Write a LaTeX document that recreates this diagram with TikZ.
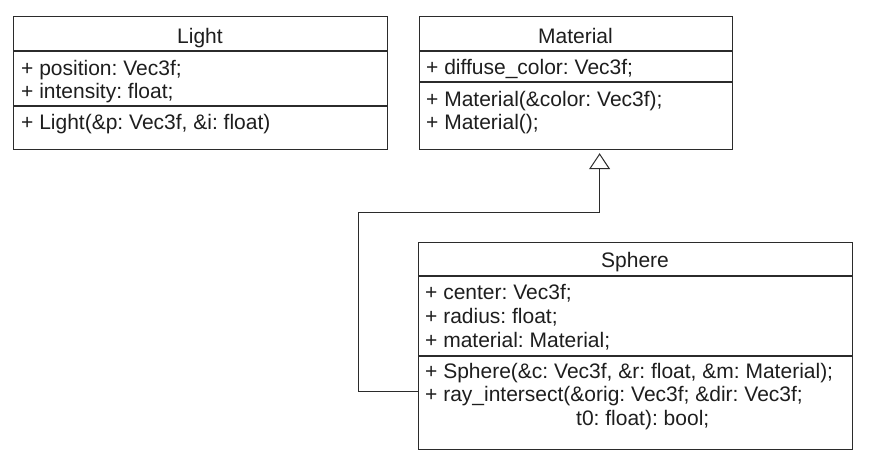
\documentclass[tikz,border=0pt]{standalone}
\usepackage{fontspec}
\setmainfont{Liberation Sans}
\usetikzlibrary{arrows.meta,calc}
\definecolor{umlline}{HTML}{2B2B2B}
\definecolor{umltext}{HTML}{1E1E1E}
\frenchspacing
\begin{document}
\begin{tikzpicture}[x=1pt,y=-1pt,
  umlbox/.style={draw=umlline, line width=1.2pt, fill=white, anchor=north west, inner sep=0pt},
  sepline/.style={draw=umlline, line width=1.1pt},
  txt/.style={anchor=base west, inner sep=0pt, text=umltext, font=\fontsize{21}{24}\selectfont},
  hdr/.style={anchor=base, inner sep=0pt, text=umltext, font=\fontsize{21}{24}\selectfont},
  inh/.style={draw=umlline, line width=1pt, shorten >=3pt,
    -{Triangle[open, length=16pt, width=21pt, fill=white]}}
]
\useasboundingbox[fill=white] (0,0) rectangle (873,471);

% Light
\node[umlbox, minimum width=374pt, minimum height=133pt] (light) at (13,16) {};
\draw[sepline] ($(light.north west)+(0,35)$) -- ($(light.north east)+(0,35)$);
\draw[sepline] ($(light.north west)+(0,90)$) -- ($(light.north east)+(0,90)$);
\node[hdr] (lighth) at (200,43) {Light};
\node[txt] (lighta1) at (21,75) {+ position: Vec3f;};
\node[txt] (lighta2) at (21,98) {+ intensity: float;};
\node[txt] (lightm1) at (21,129) {+ Light(\&p: Vec3f, \&i: float)};

% Material
\node[umlbox, minimum width=313pt, minimum height=133pt] (material) at (419,16) {};
\draw[sepline] ($(material.north west)+(0,35)$) -- ($(material.north east)+(0,35)$);
\draw[sepline] ($(material.north west)+(0,66)$) -- ($(material.north east)+(0,66)$);
\node[hdr] (materialh) at (575.5,43) {Material};
\node[txt] (materiala1) at (426,74) {+ diffuse\_color: Vec3f;};
\node[txt] (materialm1) at (426,106) {+ Material(\&color: Vec3f);};
\node[txt] (materialm2) at (426,129) {+ Material();};

% Sphere
\node[umlbox, minimum width=434pt, minimum height=207pt] (sphere) at (418,242) {};
\draw[sepline] ($(sphere.north west)+(0,34)$) -- ($(sphere.north east)+(0,34)$);
\draw[sepline] ($(sphere.north west)+(0,114)$) -- ($(sphere.north east)+(0,114)$);
\node[hdr] (sphereh) at (635,267) {Sphere};
\node[txt] (spherea1) at (425,299) {+ center: Vec3f;};
\node[txt] (spherea2) at (425,323) {+ radius: float;};
\node[txt] (spherea3) at (425,347) {+ material: Material;};
\node[txt] (spherem1) at (425,378) {+ Sphere(\&c: Vec3f, \&r: float, \&m: Material);};
\node[txt] (spherem2) at (425,401) {+ ray\_intersect(\&orig: Vec3f; \&dir: Vec3f;};
\node[txt] (spherem3) at (576,425) {t0: float): bool;};

% Generalization
\draw[inh] ($(sphere.north west)+(0,149)$) -- ++(-60,0)
  |- ($(material.south)+(23.5,62)$) -- ($(material.south)+(23.5,0)$);
\end{tikzpicture}
\end{document}
